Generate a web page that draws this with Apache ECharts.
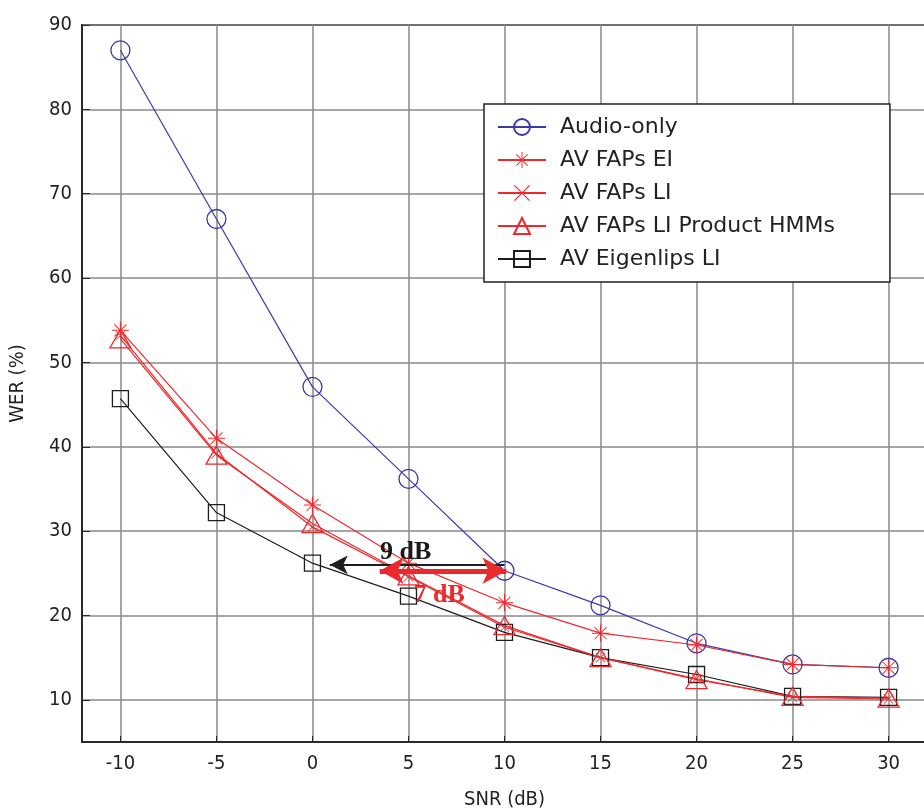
<!DOCTYPE html>
<html>
<head>
<meta charset="utf-8">
<script src="https://cdn.jsdelivr.net/npm/echarts@6/dist/echarts.min.js"></script>
<style>
  html, body { margin: 0; padding: 0; background: #fff; }
  #chart { width: 924px; height: 812px; }
</style>
</head>
<body>
<div id="chart"></div>
<script>
  // SNR values (dB)
  const snr = [-10, -5, 0, 5, 10, 15, 20, 25, 30]
  const yTicks = [10, 20, 30, 40, 50, 60, 70, 80, 90]
  // WER (%) per system
  const audioOnly = [87.0, 67.0, 47.1, 36.2, 25.3, 21.2, 16.7, 14.2, 13.8]
  const fapsEI = [53.8, 41.0, 33.1, 26.2, 21.5, 17.9, 16.5, 14.2, 13.8]
  const fapsLI = [53.2, 39.2, 30.5, 24.6, 18.6, 15.0, 12.5, 10.3, 10.1]
  const fapsProduct = [52.8, 39.0, 30.9, 24.7, 18.8, 15.0, 12.4, 10.4, 10.2]
  const eigenLI = [45.7, 32.2, 26.2, 22.3, 18.0, 15.0, 13.0, 10.4, 10.3]
  // annotation arrows: [x, y] ends
  const arrow9dB = [[10, 26.0], [0.9, 26.0]]
  const arrow7dB = [[3.5, 25.3], [10.1, 25.3]]
  const label9dB = [4.85, 27.5]
  const label7dB = [6.6, 22.4]

  const BLUE = '#3a3aa8'
  const RED = '#ec2a2e'
  const BLACK = '#1e1e1e'
  const FONT = "'DejaVu Sans Condensed', 'Liberation Sans', sans-serif"

  const starPath = 'path://M-0.6,-10L0.6,-10L0.6,10L-0.6,10Z M-10,-0.6L10,-0.6L10,0.6L-10,0.6Z M-7.5,-6.7L-6.7,-7.5L7.5,6.7L6.7,7.5Z M6.7,-7.5L7.5,-6.7L-6.7,7.5L-7.5,6.7Z'
  const crossPath = 'path://M-7.5,-6.7L-6.7,-7.5L7.5,6.7L6.7,7.5Z M6.7,-7.5L7.5,-6.7L-6.7,7.5L-7.5,6.7Z'

  const pairs = (ys) => snr.map((x, i) => [x, ys[i]])

  const chart = echarts.init(document.getElementById('chart'))
  const option = {
    animation: false,
    backgroundColor: '#fff',
    grid: {
      left: 82, top: 25, width: 845, height: 717,
      containLabel: false, outerBoundsMode: 'none',
      show: true, borderColor: '#2a2a2a', borderWidth: 2, backgroundColor: 'transparent'
    },
    legend: {
      orient: 'vertical',
      left: 484, top: 104,
      padding: [12, 55, 12, 13],
      itemGap: 11, itemWidth: 48, itemHeight: 20,
      backgroundColor: '#fff', borderColor: '#222', borderWidth: 1.5,
      textStyle: { fontFamily: "'DejaVu Sans', sans-serif", fontSize: 22, color: '#222', padding: [0, 0, 0, 9] },
      data: ['Audio-only', 'AV FAPs EI', 'AV FAPs LI', 'AV FAPs LI Product HMMs', 'AV Eigenlips LI']
    },
    xAxis: {
      type: 'value', min: -12, max: 32,
      name: 'SNR (dB)', nameLocation: 'middle', nameGap: 48,
      nameTextStyle: { fontFamily: FONT, fontSize: 20, color: '#222' },
      axisLine: { onZero: false, lineStyle: { color: '#2a2a2a', width: 2 } },
      axisTick: { inside: true, length: 6, customValues: snr, lineStyle: { color: '#2a2a2a' } },
      axisLabel: { customValues: snr, margin: 12, fontFamily: FONT, fontSize: 20, color: '#222' },
      splitLine: { show: true, lineStyle: { color: '#888', width: 1.5 } }
    },
    yAxis: {
      type: 'value', min: 5, max: 90,
      name: 'WER (%)', nameLocation: 'middle', nameGap: 54,
      nameTextStyle: { fontFamily: FONT, fontSize: 20, color: '#222' },
      axisLine: { show: true, onZero: false, lineStyle: { color: '#2a2a2a', width: 2 } },
      axisTick: { show: true, inside: true, length: 8, customValues: yTicks, lineStyle: { color: '#2a2a2a' } },
      axisLabel: { customValues: yTicks, margin: 10, fontFamily: FONT, fontSize: 20, color: '#222' },
      splitLine: { show: true, lineStyle: { color: '#888', width: 1.5 } }
    },
    series: [
      {
        name: 'AV Eigenlips LI', type: 'line', data: pairs(eigenLI),
        symbol: 'rect', symbolSize: 16,
        lineStyle: { color: BLACK, width: 1.2 },
        itemStyle: { color: 'transparent', borderColor: BLACK, borderWidth: 1.3 },
        markLine: {
          silent: true, symbol: ['none', 'arrow'], symbolSize: [14, 18],
          lineStyle: { color: BLACK, width: 2, type: 'solid' },
          label: { show: false },
          data: [[{ coord: arrow9dB[0] }, { coord: arrow9dB[1] }]]
        },
        markPoint: {
          silent: true,
          data: [{
            coord: label9dB, symbol: 'circle', symbolSize: 0,
            label: { show: true, position: 'inside', formatter: '9 dB', color: '#1a1a1a',
              fontFamily: "'Liberation Serif', serif", fontWeight: 'bold', fontSize: 26 }
          }]
        }
      },
      {
        name: 'Audio-only', type: 'line', data: pairs(audioOnly),
        symbol: 'circle', symbolSize: 19,
        lineStyle: { color: BLUE, width: 1.2 },
        itemStyle: { color: 'transparent', borderColor: BLUE, borderWidth: 1.3 }
      },
      {
        name: 'AV FAPs LI Product HMMs', type: 'line', data: pairs(fapsProduct),
        symbol: 'triangle', symbolSize: [21, 18],
        lineStyle: { color: RED, width: 1.2 },
        itemStyle: { color: 'transparent', borderColor: RED, borderWidth: 1.3 }
      },
      {
        name: 'AV FAPs LI', type: 'line', data: pairs(fapsLI),
        symbol: crossPath, symbolSize: 10, symbolKeepAspect: true,
        lineStyle: { color: RED, width: 1.2 },
        itemStyle: { color: RED }
      },
      {
        name: 'AV FAPs EI', type: 'line', data: pairs(fapsEI),
        symbol: starPath, symbolSize: 17, symbolKeepAspect: true,
        lineStyle: { color: RED, width: 1.2 },
        itemStyle: { color: RED },
        markLine: {
          silent: true, symbol: ['arrow', 'arrow'], symbolSize: [20, 24],
          lineStyle: { color: RED, width: 5, type: 'solid' },
          label: { show: false },
          data: [[{ coord: arrow7dB[0] }, { coord: arrow7dB[1] }]]
        },
        markPoint: {
          silent: true,
          data: [{
            coord: label7dB, symbol: 'circle', symbolSize: 0,
            label: { show: true, position: 'inside', formatter: '7 dB', color: RED,
              fontFamily: "'Liberation Serif', serif", fontWeight: 'bold', fontSize: 26 }
          }]
        }
      }
    ]
  }
  chart.setOption(option)
  window.onresize = function () { chart.resize() }
</script>
</body>
</html>
